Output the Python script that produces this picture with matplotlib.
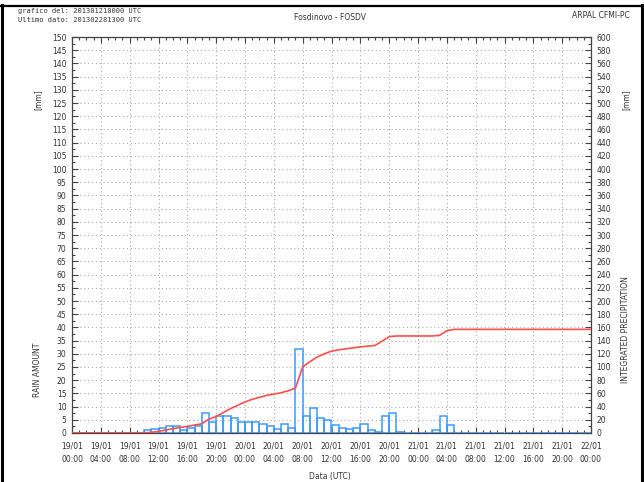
import matplotlib
matplotlib.use("Agg")
import matplotlib.pyplot as plt
from matplotlib.lines import Line2D
from matplotlib.ticker import MultipleLocator

# hourly rain (mm) for each hour starting 19/01 00:00 UTC
rain_hours = list(range(72))
rain_mm = [
    0, 0, 0, 0, 0, 0, 0, 0, 0, 0,
    1, 1.5, 2, 2.5, 2.5, 1, 2, 2.5, 7.5, 4,
    6.5, 6.5, 5.5, 4, 4, 4, 3.5, 2.5, 1.5, 3.5,
    2, 32, 6.5, 9.5, 5.5, 5, 3, 2, 1.5, 2,
    3.5, 1, 0.5, 6.5, 7.5, 0.5, 0, 0, 0, 0,
    1, 6.5, 3, 0, 0, 0, 0, 0, 0, 0,
    0, 0, 0, 0, 0, 0, 0, 0, 0, 0,
    0, 0,
]

# integrated precipitation (mm) at each hour mark
cum_hours = list(range(73))
cum_mm = [
    0, 0, 0, 0, 0, 0, 0, 0, 0, 0,
    0, 1, 2.5, 4.5, 6.5, 8.5, 10, 12, 14, 21,
    25, 31, 37, 42, 47, 51, 54, 57, 59, 61,
    64, 68, 100, 108, 115, 120, 124, 126, 127.5, 129,
    130.5, 131.5, 132.5, 139, 146, 147, 147, 147, 147, 147,
    147, 148, 155, 157, 157, 157, 157, 157, 157, 157,
    157, 157, 157, 157, 157, 157, 157, 157, 157, 157,
    157, 157, 157,
]

tick_hours = list(range(0, 73, 4))
tick_labels = [
    "19/01\n00:00", "19/01\n04:00", "19/01\n08:00", "19/01\n12:00",
    "19/01\n16:00", "19/01\n20:00", "20/01\n00:00", "20/01\n04:00",
    "20/01\n08:00", "20/01\n12:00", "20/01\n16:00", "20/01\n20:00",
    "21/01\n00:00", "21/01\n04:00", "21/01\n08:00", "21/01\n12:00",
    "21/01\n16:00", "21/01\n20:00", "22/01\n00:00",
]

FS = 5.5
TXT = "#333333"

fig = plt.figure(figsize=(6.44, 4.82), dpi=100)
ax = fig.add_axes([72 / 644, 1 - 433 / 482, 519 / 644, 396 / 482])

ax.bar(rain_hours, rain_mm, width=1, align="edge", fill=False,
       edgecolor="#3d9bff", linewidth=1.1, zorder=2)

ax.set_xlim(0, 72)
ax.set_ylim(0, 150)
ax.xaxis.set_major_locator(MultipleLocator(4))
ax.xaxis.set_minor_locator(MultipleLocator(1))
ax.yaxis.set_major_locator(MultipleLocator(5))
ax.yaxis.set_minor_locator(MultipleLocator(2.5))
ax.set_xticks(tick_hours)
ax.set_xticklabels(tick_labels, fontsize=FS, color=TXT, linespacing=1.6)
ax.tick_params(axis="both", which="both", direction="in", top=True,
               color="#444444", width=0.8)
ax.tick_params(axis="both", which="major", length=4, labelsize=FS,
               labelcolor=TXT)
ax.tick_params(axis="both", which="minor", length=2)
ax.tick_params(axis="x", which="major", pad=6)
ax.tick_params(axis="y", which="major", pad=4)
ax.grid(True, which="major", linestyle=(0, (1, 2.5)), color="#aaaaaa",
        linewidth=0.8)
for s in ax.spines.values():
    s.set_color("#444444")
    s.set_linewidth(0.9)

ax2 = ax.twinx()
ax2.plot(cum_hours, cum_mm, color="#ff4d4d", linewidth=1.2, zorder=3)
ax2.set_ylim(0, 600)
ax2.yaxis.set_major_locator(MultipleLocator(20))
ax2.yaxis.set_minor_locator(MultipleLocator(10))
ax2.tick_params(axis="y", which="both", direction="in", color="#444444",
                width=0.8)
ax2.tick_params(axis="y", which="major", length=4, labelsize=FS,
                labelcolor=TXT, pad=4)
ax2.tick_params(axis="y", which="minor", length=2)
for s in ax2.spines.values():
    s.set_visible(False)

# header texts
fig.text(18 / 644, 1 - 11 / 482, "grafico del: 201301210000 UTC",
         fontsize=5, color=TXT, va="center", family="DejaVu Sans Mono")
fig.text(18 / 644, 1 - 19.5 / 482, "Ultimo dato: 201302281300 UTC",
         fontsize=5, color=TXT, va="center", family="DejaVu Sans Mono")
fig.text(330 / 644, 1 - 17 / 482, "Fosdinovo - FOSDV", fontsize=FS,
         color=TXT, ha="center", va="center")
fig.text(630 / 644, 1 - 16 / 482, "ARPAL CFMI-PC", fontsize=FS,
         color=TXT, ha="right", va="center")

# axis titles
fig.text(38 / 644, 1 - 100 / 482, "[mm]", fontsize=FS, color=TXT,
         rotation=90, ha="center", va="center")
fig.text(38 / 644, 1 - 370 / 482, "RAIN AMOUNT", fontsize=FS, color=TXT,
         rotation=90, ha="center", va="center")
fig.text(626 / 644, 1 - 100 / 482, "[mm]", fontsize=FS, color=TXT,
         rotation=90, ha="center", va="center")
fig.text(626 / 644, 1 - 330 / 482, "INTEGRATED PRECIPITATION", fontsize=FS,
         color=TXT, rotation=90, ha="center", va="center")
fig.text(330 / 644, 1 - 477 / 482, "Data (UTC)", fontsize=FS, color=TXT,
         ha="center", va="center")

# surrounding frame
fig.add_artist(Line2D([0, 1], [1 - 5.5 / 482] * 2, color="black", lw=1.6,
                      transform=fig.transFigure))
fig.add_artist(Line2D([1.5 / 644] * 2, [0, 1 - 5 / 482], color="black",
                      lw=2.2, transform=fig.transFigure))
fig.add_artist(Line2D([641.5 / 644] * 2, [0, 1 - 5 / 482], color="black",
                      lw=2.2, transform=fig.transFigure))

fig.savefig("out.png", dpi=100)
